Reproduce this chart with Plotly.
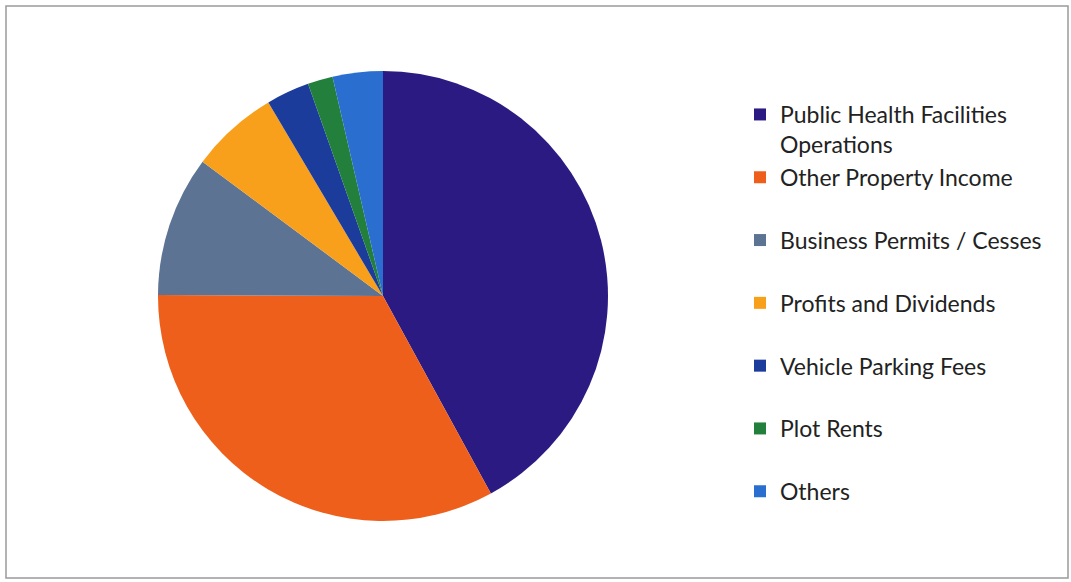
import plotly.graph_objects as go

labels = [
    "Public Health Facilities<br>Operations",
    "Other Property Income<br>\u00a0",
    "Business Permits / Cesses<br>\u00a0",
    "Profits and Dividends<br>\u00a0",
    "Vehicle Parking Fees<br>\u00a0",
    "Plot Rents<br>\u00a0",
    "Others",
]
values = [42.0, 33.0, 10.1, 6.3, 3.1, 1.8, 3.6]
colors = ["#2b1a82", "#ee5f1c", "#5d7393", "#f8a01c", "#1c3c9c", "#22803c", "#2a6fd0"]

W, H = 1071, 582
cx, cy, r = 383, 296, 225

fig = go.Figure(go.Pie(
    labels=labels,
    values=values,
    sort=False,
    direction="clockwise",
    rotation=0,
    textinfo="none",
    hoverinfo="percent",
    marker=dict(colors=colors, line=dict(width=0)),
    domain=dict(x=[(cx - r) / W, (cx + r) / W], y=[1 - (cy + r) / H, 1 - (cy - r) / H]),
))

fig.update_layout(
    width=W, height=H,
    margin=dict(l=0, r=0, t=0, b=0),
    paper_bgcolor="white",
    font=dict(family="Lato", size=23, color="#222222"),
    legend=dict(
        x=740 / W, y=1 - 93 / H, xanchor="left", yanchor="top",
        valign="top", traceorder="normal",
        font=dict(family="Lato", size=23, color="#222222"),
        bgcolor="rgba(0,0,0,0)",
    ),
    shapes=[dict(type="rect", xref="paper", yref="paper",
                 x0=6 / W, x1=1068 / W, y0=1 - 578 / H, y1=1 - 6 / H,
                 line=dict(color="#9a9a9a", width=1.5))],
)

fig.write_html("out.html")
